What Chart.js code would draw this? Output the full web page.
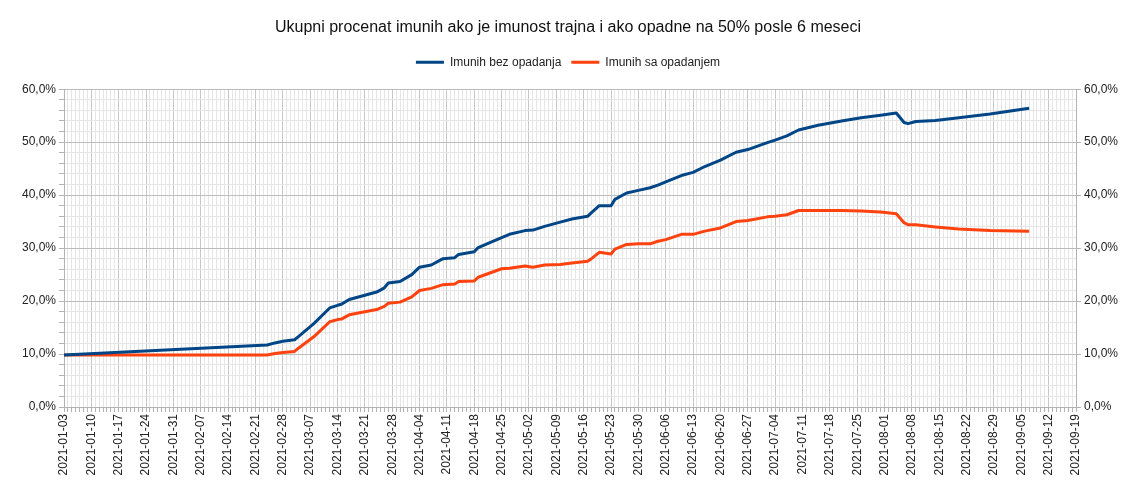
<!DOCTYPE html>
<html>
<head>
<meta charset="utf-8">
<title>Imuni</title>
<script src="https://cdn.jsdelivr.net/npm/chart.js@4/dist/chart.umd.min.js"></script>
<style>
  html, body { margin: 0; padding: 0; background: #fff; }
</style>
</head>
<body>
<canvas id="imuniChart" width="1136" height="490"></canvas>
<script>
// dani od 2021-01-03
const startDate = Date.UTC(2021, 0, 3);
const lastDay = 259; // 2021-09-19

const days = [0, 52, 54, 56, 59, 60, 64, 68, 70, 71, 73, 77, 80, 82, 83, 86, 89, 91, 94, 97,
  100, 101, 105, 106, 112, 114, 118, 120, 123, 127, 130, 134, 135, 137, 140, 141, 144, 147, 150, 152,
  154, 158, 161, 164, 168, 172, 175, 180, 182, 185, 188, 193, 199, 204, 209, 213, 215, 216, 218, 223,
  229, 237, 247];

const bezOpadanja = [9.8, 11.7, 12.1, 12.4, 12.7, 13.3, 15.8, 18.7, 19.2, 19.4, 20.3, 21.1, 21.7, 22.5, 23.4, 23.7, 25.0, 26.4, 26.8, 28.0,
  28.2, 28.8, 29.3, 30.1, 32.0, 32.6, 33.3, 33.4, 34.1, 34.9, 35.5, 36.0, 36.7, 38.0, 38.0, 39.2, 40.4, 40.9, 41.4, 41.9,
  42.5, 43.7, 44.3, 45.4, 46.6, 48.1, 48.6, 49.9, 50.4, 51.2, 52.3, 53.2, 54.0, 54.6, 55.1, 55.5, 53.7, 53.5, 53.9, 54.1,
  54.6, 55.3, 56.4];

const saOpadanjem = [9.8, 9.8, 10.1, 10.3, 10.5, 11.1, 13.3, 16.1, 16.5, 16.6, 17.4, 18.0, 18.4, 19.0, 19.6, 19.8, 20.8, 22.0, 22.4, 23.1,
  23.2, 23.7, 23.8, 24.5, 26.1, 26.2, 26.6, 26.4, 26.8, 26.9, 27.2, 27.5, 28.0, 29.2, 28.9, 29.8, 30.7, 30.8, 30.8, 31.3,
  31.6, 32.6, 32.6, 33.2, 33.8, 35.0, 35.2, 35.9, 36.0, 36.3, 37.1, 37.1, 37.1, 37.0, 36.8, 36.5, 34.8, 34.4, 34.4, 34.0,
  33.6, 33.3, 33.2];

function dayLabel(d) {
  return new Date(startDate + d * 86400000).toISOString().slice(0, 10);
}

function pct(v) {
  return v.toFixed(1).replace('.', ',') + '%';
}

const fontFamily = '"Liberation Sans", Arial, sans-serif';
Chart.defaults.font.family = fontFamily;
Chart.defaults.color = '#222';

// extra prostor ispod legende
const legendSpacer = {
  id: 'legendSpacer',
  beforeInit(chart) {
    const fit = chart.legend.fit;
    chart.legend.fit = function () {
      fit.bind(chart.legend)();
      this.height += 11;
    };
  }
};

const ctx = document.getElementById('imuniChart').getContext('2d');

new Chart(ctx, {
  type: 'line',
  data: {
    datasets: [{
      label: 'Imunih bez opadanja',
      data: days.map((d, i) => ({ x: d, y: bezOpadanja[i] })),
      borderColor: '#004586',
      backgroundColor: '#004586',
      borderWidth: 3,
      pointRadius: 0,
      tension: 0,
      borderJoinStyle: 'round'
    }, {
      label: 'Imunih sa opadanjem',
      data: days.map((d, i) => ({ x: d, y: saOpadanjem[i] })),
      borderColor: '#ff420e',
      backgroundColor: '#ff420e',
      borderWidth: 3,
      pointRadius: 0,
      tension: 0,
      borderJoinStyle: 'round'
    }]
  },
  options: {
    responsive: false,
    animation: false,
    plugins: {
      title: {
        display: true,
        text: 'Ukupni procenat imunih ako je imunost trajna i ako opadne na 50% posle 6 meseci',
        color: '#111',
        font: { size: 16, weight: 'normal' },
        padding: { top: 18, bottom: 9 }
      },
      legend: {
        labels: {
          boxWidth: 28,
          boxHeight: 3,
          color: '#222',
          font: { size: 12 },
          padding: 10,
          generateLabels(chart) {
            return Chart.defaults.plugins.legend.labels.generateLabels(chart)
              .map(l => ({ ...l, lineWidth: 0, fillStyle: l.strokeStyle }));
          }
        }
      },
      tooltip: { enabled: false }
    },
    scales: {
      x: {
        type: 'linear',
        min: 0,
        max: lastDay,
        afterFit(s) { s.height = 83; },
        border: { color: '#b3b3b3' },
        grid: {
          color: c => (c.tick && c.tick.value % 7 === 0) ? '#c8c8c8' : '#e6e6e6',
          tickColor: '#b3b3b3',
          tickLength: 5
        },
        ticks: {
          stepSize: 1,
          autoSkip: false,
          minRotation: 90,
          maxRotation: 90,
          padding: 2,
          font: { size: 12 },
          callback: v => v % 7 === 0 ? dayLabel(v) : ''
        }
      },
      y: {
        position: 'left',
        min: 0,
        max: 60,
        afterFit(s) { s.width = 64; },
        border: { color: '#b3b3b3' },
        grid: {
          color: c => (c.tick && c.tick.value % 10 === 0) ? '#bdbdbd' : '#e6e6e6',
          tickColor: '#b3b3b3',
          tickLength: 5
        },
        ticks: {
          stepSize: 2,
          autoSkip: false,
          font: { size: 12 },
          callback: v => v % 10 === 0 ? pct(v) : ''
        }
      },
      y2: {
        position: 'right',
        min: 0,
        max: 60,
        afterFit(s) { s.width = 60; },
        border: { color: '#b3b3b3' },
        grid: {
          drawOnChartArea: false,
          tickColor: '#b3b3b3',
          tickLength: 5
        },
        ticks: {
          stepSize: 10,
          autoSkip: false,
          font: { size: 12 },
          callback: v => pct(v)
        }
      }
    }
  },
  plugins: [legendSpacer]
});
</script>
</body>
</html>
